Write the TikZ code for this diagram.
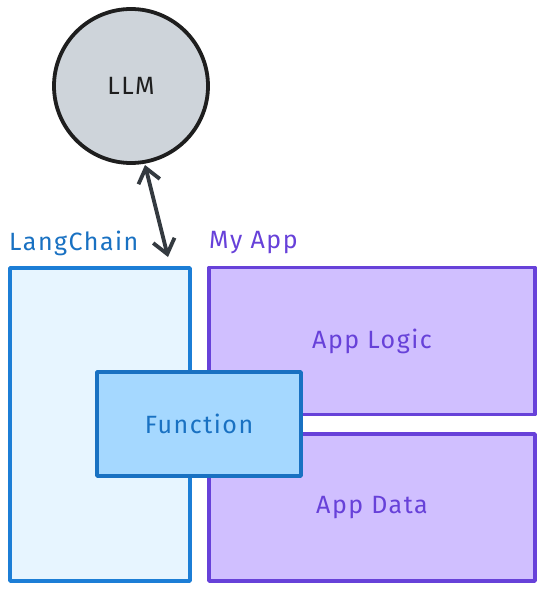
\documentclass[tikz,border=0pt]{standalone}
\usepackage{fontspec}
\setmainfont{Fira Sans}[LetterSpace=6]
\usetikzlibrary{arrows.meta}
\definecolor{lcblue}{HTML}{1C7ED6}
\definecolor{lcfill}{HTML}{E7F5FF}
\definecolor{fnblue}{HTML}{1971C2}
\definecolor{fnfill}{HTML}{A5D8FF}
\definecolor{violet}{HTML}{6741D9}
\definecolor{vfill}{HTML}{D0BFFF}
\definecolor{llmfill}{HTML}{CED4DA}
\definecolor{ink}{HTML}{1E1E1E}
\definecolor{arrowc}{HTML}{343A40}
\tikzset{
  box/.style={rectangle, line width=3.8pt, inner sep=0pt, line join=round},
  txt/.style={font=\fontsize{25}{30}\selectfont, inner sep=0pt},
}
\begin{document}
\begin{tikzpicture}[x=1pt,y=-1pt]
\useasboundingbox (0,0) rectangle (544,591);
% LLM circle
\node[circle, draw=ink, fill=llmfill, line width=3.8pt, minimum size=154pt, inner sep=0pt, txt, text=ink] (llm) at (131,86) {LLM};
% LangChain
\node[box, draw=lcblue, fill=lcfill, minimum width=180pt, minimum height=313pt] (lc) at (100,424.5) {};
\node[txt, text=fnblue, anchor=west] (lclab) at (9,243) {LangChain};
% My App
\node[box, draw=violet, fill=vfill, minimum width=326pt, minimum height=147pt, txt, text=violet] (logic) at (372,341) {App Logic};
\node[box, draw=violet, fill=vfill, minimum width=326pt, minimum height=147pt, txt, text=violet] (data) at (372,507.5) {App Data};
\node[txt, text=violet, anchor=west] (applab) at (209,243) {My App};
% Function
\node[box, draw=fnblue, fill=fnfill, minimum width=204pt, minimum height=104pt, txt, text=fnblue] (fn) at (199,424) {Function};
% arrow
\coordinate (aS) at (145,165);
\coordinate (aE) at (168,257);
\draw[arrowc, line width=3.8pt, line cap=round, {Straight Barb[length=14pt,width=22pt,line width=3.8pt]}-{Straight Barb[length=14pt,width=22pt,line width=3.8pt]}] (aS) -- (aE);
\end{tikzpicture}
\end{document}
